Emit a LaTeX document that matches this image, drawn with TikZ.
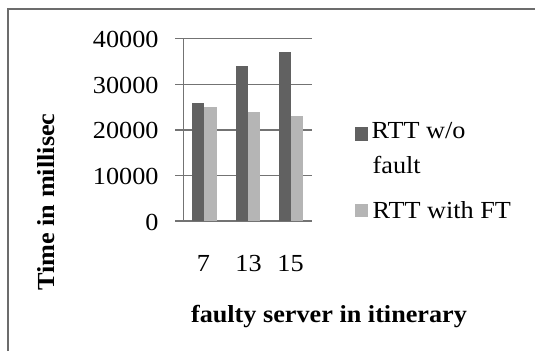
\documentclass[tikz,border=0pt]{standalone}
\usepackage{fontspec}
\setmainfont{Liberation Serif}
\begin{document}
\begin{tikzpicture}[x=1pt,y=-1pt,
  lbl/.style={inner sep=0pt,font=\fontsize{24.5}{29}\selectfont},
  grid/.style={draw=gray!90!black,line width=1.6pt},
  darkbar/.style={fill=black!62,draw=none},
  lightbar/.style={fill=black!29,draw=none}]
\newcommand{\wide}[1]{\scalebox{1.07}[1]{#1}}
\useasboundingbox (0,0) rectangle (535,351);
% outer frame (top and left edges visible)
\draw[draw=gray!85!black,line width=2pt] (7.5,351) -- (7.5,8.8) -- (535,8.8);
% horizontal grid lines with tick labels
\foreach \v/\yy in {0/221.2,10000/175.4,20000/129.7,30000/84.3,40000/38.6}{
  \draw[grid] (175,\yy) -- (311.6,\yy);
  \node[lbl,anchor=east] (t\v) at (158.7,\yy+1) {\wide{\v}};
}
% vertical axis
\draw[grid] (183.3,38.6) -- (183.3,221.2);
% bars: values in thousands, 1000 units = 4.565 px
\foreach \x/\a/\b in {192.2/26/25,235.5/34/24,278.8/37/23}{
  \fill[darkbar] (\x,221.2) rectangle (\x+12,221.2-\a*4.565);
  \fill[lightbar] (\x+12,221.2) rectangle (\x+24.5,221.2-\b*4.565);
}
% category labels
\node[lbl] (c7) at (203.5,263.7) {\wide{7}};
\node[lbl] (c13) at (248.5,263.7) {\wide{13}};
\node[lbl] (c15) at (290.5,263.7) {\wide{15}};
% axis titles
\node[lbl,font=\fontsize{24.5}{29}\selectfont\bfseries,anchor=base] (xt) at (329,322.5) {\wide{faulty server in itinerary}};
\node[lbl,font=\fontsize{24.5}{29}\selectfont\bfseries,rotate=90] (yt) at (45.7,202) {\wide{Time in millisec}};
% legend
\fill[darkbar] (355,127.3) rectangle (368,140.6);
\node[lbl,anchor=base west] (l1) at (371.5,138.3) {\wide{RTT w/o}};
\node[lbl,anchor=base west] (l1b) at (372.5,173.4) {\wide{fault}};
\fill[lightbar] (355,204) rectangle (368,217.4);
\node[lbl,anchor=base west] (l2) at (372.5,218.4) {\wide{RTT with FT}};
\end{tikzpicture}
\end{document}
